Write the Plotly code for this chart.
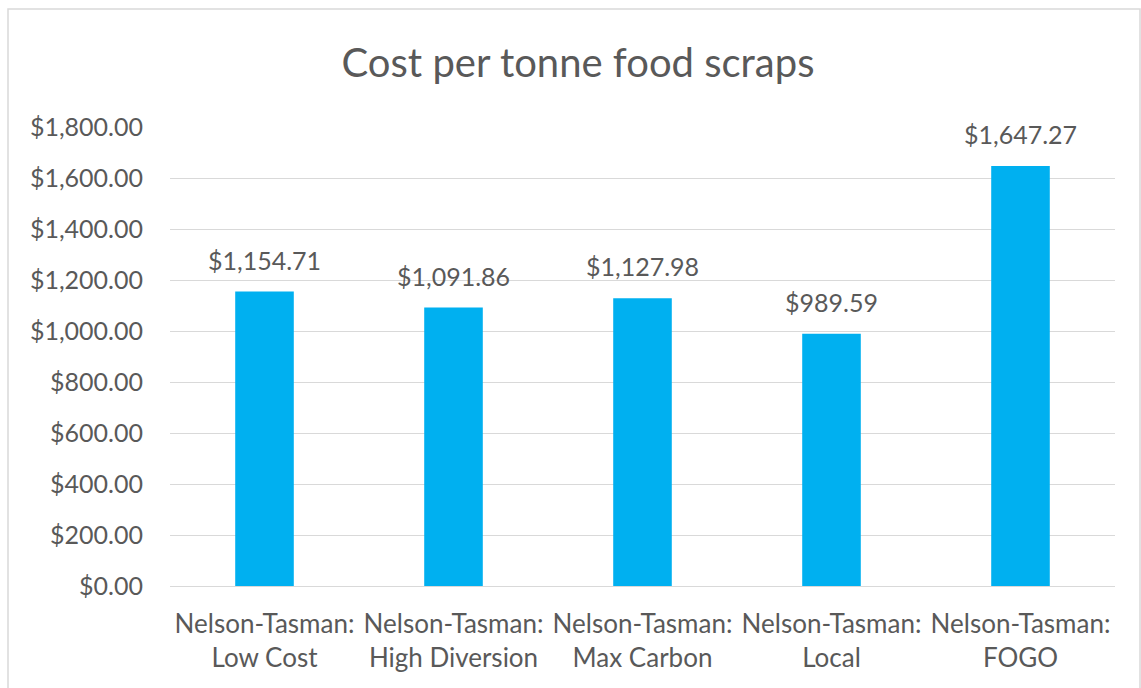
import plotly.graph_objects as go

# Scenario cost per tonne of food scraps
scenarios = [
    "Nelson-Tasman:<br>Low Cost",
    "Nelson-Tasman:<br>High Diversion",
    "Nelson-Tasman:<br>Max Carbon",
    "Nelson-Tasman:<br>Local",
    "Nelson-Tasman:<br>FOGO",
]
cost_per_tonne = [1154.71, 1091.86, 1127.98, 989.59, 1647.27]
y_ticks = [0, 200, 400, 600, 800, 1000, 1200, 1400, 1600, 1800]

W, H = 1141, 688
L, R, T, B = 170, 26, 127, 102
pw, ph = W - L - R, H - T - B

text_color = "#595959"
grid_color = "#D9D9D9"
font_family = "Lato, 'Open Sans', sans-serif"

fig = go.Figure(
    go.Bar(
        x=scenarios,
        y=cost_per_tonne,
        marker=dict(color="#00B0F0", line=dict(width=0)),
        width=0.31,
    )
)

# value labels above each bar
for s, v in zip(scenarios, cost_per_tonne):
    fig.add_annotation(
        x=s,
        y=v,
        text=f"${v:,.2f}",
        showarrow=False,
        xanchor="center",
        yanchor="bottom",
        yshift=15,
        font=dict(size=25, color=text_color, family=font_family),
    )

fig.update_layout(
    width=W,
    height=H,
    margin=dict(l=L, r=R, t=T, b=B),
    paper_bgcolor="white",
    plot_bgcolor="white",
    showlegend=False,
    font=dict(family=font_family, color=text_color),
    title=dict(
        text="Cost per tonne food scraps",
        font=dict(size=40, color=text_color, family=font_family),
        x=(578 / W),
        xanchor="center",
        y=1 - 63 / H,
        yanchor="middle",
    ),
    xaxis=dict(
        showgrid=False,
        showline=False,
        ticks="",
        ticklabelstandoff=20,
        tickfont=dict(size=26, color=text_color),
    ),
    yaxis=dict(
        range=[0, 1800],
        tickvals=y_ticks,
        ticktext=[f"${v:,.2f}" for v in y_ticks],
        showgrid=True,
        gridcolor=grid_color,
        gridwidth=1,
        zeroline=True,
        zerolinecolor=grid_color,
        zerolinewidth=1,
        showline=False,
        ticks="",
        ticklabelstandoff=26,
        tickfont=dict(size=25, color=text_color),
    ),
    # chart-area frame
    shapes=[
        dict(
            type="rect",
            xref="paper",
            yref="paper",
            x0=(8 - L) / pw,
            x1=(1140 - L) / pw,
            y0=-(B + 6) / ph,
            y1=(ph + T - 9) / ph,
            line=dict(color=grid_color, width=1.5),
            fillcolor="rgba(0,0,0,0)",
            layer="below",
        )
    ],
)

fig.write_html("out.html")
